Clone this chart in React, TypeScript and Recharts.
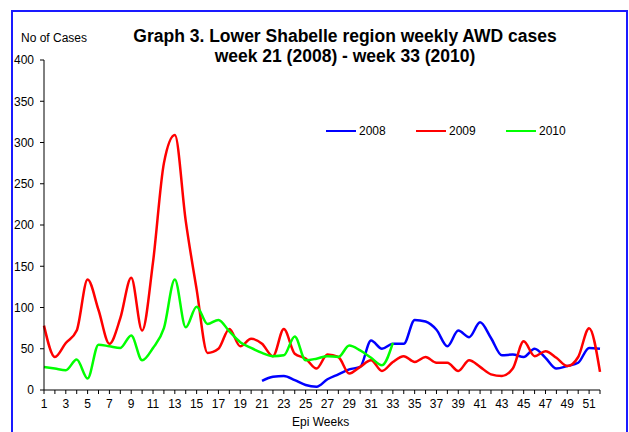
import { LineChart, Line, XAxis, YAxis } from 'recharts'

const weeks = [
  1, 2, 3, 4, 5, 6, 7, 8, 9, 10, 11, 12, 13, 14, 15, 16, 17, 18, 19, 20, 21, 22, 23, 24, 25, 26,
  27, 28, 29, 30, 31, 32, 33, 34, 35, 36, 37, 38, 39, 40, 41, 42, 43, 44, 45, 46, 47, 48, 49, 50,
  51, 52,
]
const yTicks = [0, 50, 100, 150, 200, 250, 300, 350, 400]

// 2008 starts at week 21
const cases2008 = [
  null, null, null, null, null, null, null, null, null, null, null, null, null, null, null, null,
  null, null, null, null,
  11, 16, 17, 12, 6, 4, 13, 19, 25, 28, 60, 50, 56, 56, 85, 83, 73, 53, 72, 64, 82, 63, 42, 43,
  40, 50, 39, 26, 29, 33, 51, 50,
]
const cases2009 = [
  78, 40, 57, 72, 134, 97, 56, 87, 136, 72, 155, 275, 309, 205, 122, 45, 50, 74, 53, 62, 56, 41,
  74, 44, 38, 26, 43, 40, 20, 28, 36, 23, 34, 41, 34, 40, 33, 33, 23, 36, 28, 19, 17, 26, 59, 41,
  47, 39, 29, 40, 75, 22,
]
// 2010 ends at week 33
const cases2010 = [
  28, 26, 24, 37, 14, 55, 53, 51, 66, 36, 51, 75, 134, 76, 101, 80, 85, 71, 58, 51, 45, 41, 42,
  65, 36, 38, 41, 40, 54, 48, 39, 30, 57,
  null, null, null, null, null, null, null, null, null, null, null, null, null, null, null, null,
  null, null, null,
]

const series = [
  { key: 'y2008', name: '2008', color: '#0000ff' },
  { key: 'y2009', name: '2009', color: '#ff0000' },
  { key: 'y2010', name: '2010', color: '#00ff00' },
]

const data = weeks.map((w, i) => ({
  week: w,
  y2008: cases2008[i],
  y2009: cases2009[i],
  y2010: cases2010[i],
}))

const font = '"Liberation Sans", Arial, sans-serif'

function LegendBox() {
  return (
    <div
      style={{
        position: 'absolute',
        left: 326,
        top: 124,
        display: 'flex',
        fontFamily: font,
        fontSize: 12,
        color: '#000',
      }}
    >
      {series.map(s => (
        <div key={s.key} style={{ display: 'flex', alignItems: 'center', width: 90 }}>
          <span style={{ display: 'inline-block', width: 30, height: 2.5, background: s.color, marginRight: 3 }} />
          <span>{s.name}</span>
        </div>
      ))}
    </div>
  )
}

export default function App() {
  return (
    <div style={{ position: 'absolute', left: 0, top: 0, width: 629, height: 432, overflow: 'hidden', background: '#fff' }}>
      <div
        style={{
          position: 'absolute',
          left: 11,
          top: 10,
          width: 613,
          height: 440,
          border: '2px solid #1a1aff',
        }}
      />
      <div
        style={{
          position: 'absolute',
          left: 0,
          width: 690,
          top: 26,
          textAlign: 'center',
          fontFamily: font,
          fontWeight: 'bold',
          fontSize: 17.5,
          lineHeight: '20px',
          color: '#000',
        }}
      >
        Graph 3. Lower Shabelle region weekly AWD cases
        <br />
        week 21 (2008) - week 33 (2010)
      </div>
      <div style={{ position: 'absolute', left: 21, top: 31, fontFamily: font, fontSize: 12, color: '#000' }}>
        No of Cases
      </div>
      <div style={{ position: 'absolute', left: 292, top: 415, fontFamily: font, fontSize: 12, color: '#000' }}>
        Epi Weeks
      </div>
      <div style={{ position: 'absolute', left: 0, top: 0 }}>
        <LineChart width={629} height={432} data={data} margin={{ top: 60, right: 29, left: 0, bottom: 0 }}>
          <XAxis
            dataKey="week"
            type="number"
            domain={[1, 52]}
            ticks={weeks}
            interval={0}
            tickFormatter={v => (v % 2 === 1 ? String(v) : '')}
            tickSize={4}
            tickMargin={5}
            height={42}
            stroke="#000"
            tick={{ fill: '#000', fontSize: 12, fontFamily: font }}
          />
          <YAxis
            type="number"
            domain={[0, 400]}
            ticks={yTicks}
            interval={0}
            width={44}
            tickSize={4}
            tickMargin={6}
            stroke="#000"
            tick={{ fill: '#000', fontSize: 12, fontFamily: font }}
          />
          {series.map(s => (
            <Line
              key={s.key}
              dataKey={s.key}
              name={s.name}
              type="monotone"
              stroke={s.color}
              strokeWidth={2.5}
              dot={false}
              activeDot={false}
              connectNulls={false}
              isAnimationActive={false}
            />
          ))}
        </LineChart>
      </div>
      <LegendBox />
    </div>
  )
}
